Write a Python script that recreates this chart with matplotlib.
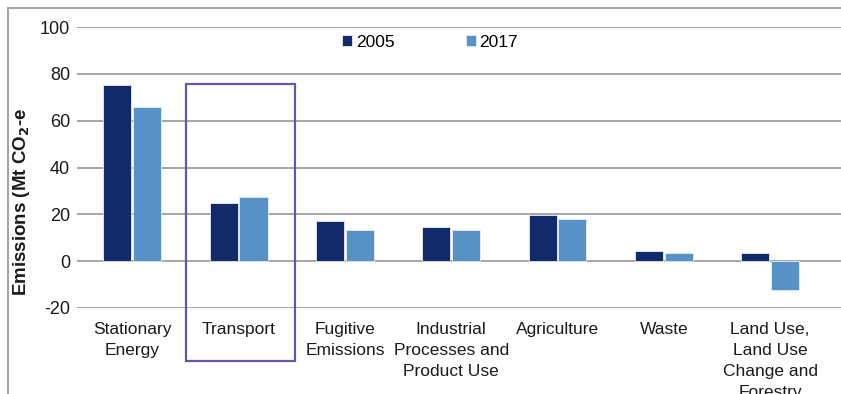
import numpy as np
import matplotlib.pyplot as plt
from matplotlib.lines import Line2D
from matplotlib.patches import Rectangle

plt.rcParams['font.family'] = ['Liberation Sans', 'DejaVu Sans']

categories = ["Stationary\nEnergy", "Transport", "Fugitive\nEmissions",
              "Industrial\nProcesses and\nProduct Use", "Agriculture", "Waste",
              "Land Use,\nLand Use\nChange and\nForestry"]
years = ["2005", "2017"]
values_2005 = [75.2, 24.8, 17.0, 14.6, 19.7, 4.4, 3.6]
values_2017 = [65.8, 27.4, 13.5, 13.1, 18.2, 3.3, -12.1]
y_ticks = [-20, 0, 20, 40, 60, 80, 100]

W, H = 841, 394
fig = plt.figure(figsize=(W / 100, H / 100), dpi=100)
# axes: left at x=77, y=100 at px 27, y=-20 at px 308
ax = fig.add_axes([77 / W, 1 - 308 / H, (W - 77) / W, (308 - 27) / H])

x = np.arange(len(categories))
bw = 0.265
ax.bar(x - 0.14, values_2005, bw, color='#132a6a', edgecolor='#e8ecf4', linewidth=0.6, label=years[0], zorder=3)
ax.bar(x + 0.14, values_2017, bw, color='#5792c6', edgecolor='#e8ecf4', linewidth=0.6, label=years[1], zorder=3)

ax.set_xlim(-0.52, -0.52 + (W - 77) / 106.3)
ax.set_ylim(-20, 100)
ax.set_yticks(y_ticks)
ax.set_yticklabels([str(t) for t in y_ticks], fontsize=13, color='#1a1a1a')
ax.tick_params(axis='y', length=0, pad=5)
ax.set_xticks([])
ax.grid(axis='y', color='#a6a6a6', linewidth=1.4, zorder=0)
for s in ax.spines.values():
    s.set_visible(False)

# category labels below the axis
for i, c in enumerate(categories):
    ax.text(i, -26.0, c, ha='center', va='top', fontsize=12.5, color='#1a1a1a',
            linespacing=1.5, clip_on=False)

ax.set_ylabel("Emissions (Mt CO$_\\mathbf{2}$-e", fontsize=13.5, fontweight='bold', color='#1a1a1a')
ax.yaxis.set_label_coords(-45 / (W - 77), (308 - 202) / (308 - 27))

# legend
leg = ax.legend(loc='upper left', bbox_to_anchor=((335 - 77) / (W - 77), 1 - (28 - 27) / (308 - 27)),
                ncol=2, frameon=False, fontsize=12.5, handlelength=0.6, handleheight=0.6,
                handletextpad=0.2, columnspacing=4.1, borderaxespad=0)

# highlight box around Transport
fig.add_artist(Rectangle((186 / W, 1 - 361 / H), (295 - 186) / W, (361 - 84) / H,
                         transform=fig.transFigure, fill=False, edgecolor='#6a52ad', linewidth=1.6))

# outer frame (cropped)
fig.add_artist(Line2D([8 / W, 1], [1 - 8 / H, 1 - 8 / H], transform=fig.transFigure, color='#a6a6a6', linewidth=1.5))
fig.add_artist(Line2D([8 / W, 8 / W], [0, 1 - 8 / H], transform=fig.transFigure, color='#a6a6a6', linewidth=1.5))

fig.savefig('out.png', dpi=100)
